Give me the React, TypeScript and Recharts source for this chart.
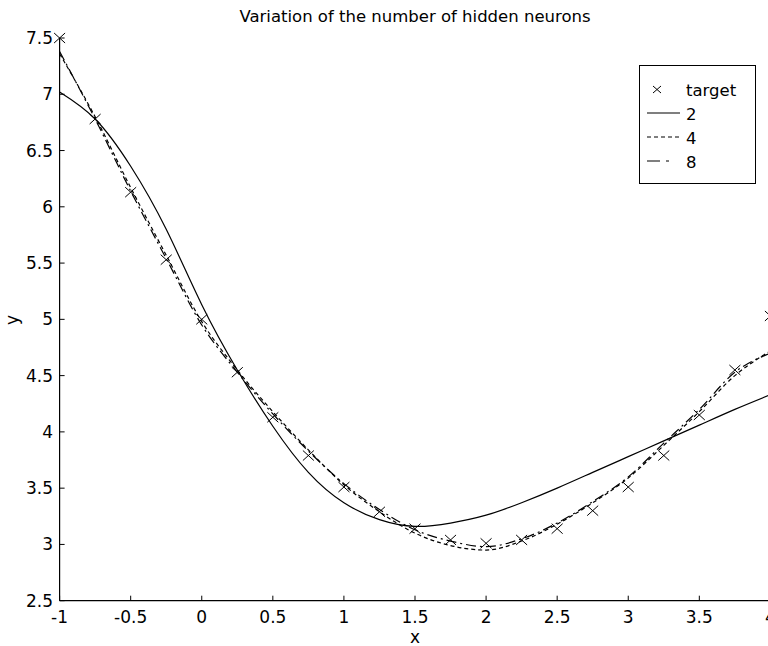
import { ComposedChart, Line, Scatter, XAxis, YAxis } from 'recharts';

const xValues = [-1, -0.75, -0.5, -0.25, 0, 0.25, 0.5, 0.75, 1, 1.25, 1.5, 1.75, 2, 2.25, 2.5, 2.75, 3, 3.25, 3.5, 3.75, 4];
const targetValues = [7.5, 6.78, 6.13, 5.53, 5.0, 4.53, 4.13, 3.79, 3.51, 3.29, 3.14, 3.04, 3.01, 3.04, 3.14, 3.3, 3.51, 3.79, 4.15, 4.55, 5.03];
const hidden2 = [7.02, 6.78, 6.36, 5.8, 5.13, 4.55, 4.05, 3.64, 3.37, 3.22, 3.16, 3.19, 3.26, 3.37, 3.5, 3.64, 3.78, 3.92, 4.06, 4.2, 4.33];
const hidden4 = [7.36, 6.8, 6.17, 5.57, 4.98, 4.55, 4.18, 3.84, 3.53, 3.29, 3.1, 2.99, 2.95, 3.03, 3.18, 3.37, 3.59, 3.88, 4.18, 4.5, 4.72];
const hidden8 = [7.38, 6.78, 6.14, 5.54, 4.95, 4.53, 4.16, 3.83, 3.54, 3.31, 3.13, 3.03, 2.98, 3.05, 3.19, 3.38, 3.6, 3.9, 4.2, 4.53, 4.7];

const xTicks = [-1, -0.5, 0, 0.5, 1, 1.5, 2, 2.5, 3, 3.5, 4];
const yTicks = [2.5, 3, 3.5, 4, 4.5, 5, 5.5, 6, 6.5, 7, 7.5];

const toPoints = (ys: number[]) => xValues.map((x, i) => ({ x, y: ys[i] }));
const targetData = toPoints(targetValues);
const data2 = toPoints(hidden2);
const data4 = toPoints(hidden4);
const data8 = toPoints(hidden8);

const FONT = 'DejaVu Sans';
const DASH4 = '4 3';
const DASH8 = '10 4 2 4';

const LeftTick = ({ x, y, payload }: any) => (
  <g>
    <line x1={x} y1={y} x2={x + 5} y2={y} stroke="#000" strokeWidth={1} />
    <text x={x - 6.5} y={y + 6} textAnchor="end" fontSize={17} fontFamily={FONT} fill="#000">
      {String(payload.value)}
    </text>
  </g>
);

const BottomTick = ({ x, y, payload }: any) => (
  <g>
    <line x1={x} y1={y} x2={x} y2={y - 5} stroke="#000" strokeWidth={1} />
    <text x={x} y={y + 22.5} textAnchor="middle" fontSize={17} fontFamily={FONT} fill="#000">
      {String(payload.value)}
    </text>
  </g>
);

const TopTick = ({ x, y }: any) => <line x1={x} y1={y} x2={x} y2={y + 5} stroke="#000" strokeWidth={1} />;
const RightTick = ({ x, y }: any) => <line x1={x} y1={y} x2={x - 5} y2={y} stroke="#000" strokeWidth={1} />;

const Cross = ({ cx, cy }: any) => (
  <g stroke="#000" strokeWidth={1}>
    <line x1={cx - 5.5} y1={cy - 5} x2={cx + 5.5} y2={cy + 5} />
    <line x1={cx - 5.5} y1={cy + 5} x2={cx + 5.5} y2={cy - 5} />
  </g>
);

// legend box drawn at the same spot as the reference, top right of the plot
const LegendBox = () => (
  <g transform="translate(639 65)">
    <rect x={0.5} y={0.5} width={116} height={118} fill="#fff" stroke="#000" strokeWidth={1} />
    <g fontSize={16.5} fontFamily={FONT} fill="#000">
      <g stroke="#000" strokeWidth={1}>
        <line x1={14} y1={21} x2={22} y2={28} />
        <line x1={14} y1={28} x2={22} y2={21} />
      </g>
      <text x={47} y={31}>target</text>
      <line x1={8} y1={48} x2={41} y2={48} stroke="#000" strokeWidth={1.2} />
      <text x={47} y={55}>2</text>
      <line x1={8} y1={72} x2={41} y2={72} stroke="#000" strokeWidth={1.2} strokeDasharray={DASH4} />
      <text x={47} y={79}>4</text>
      <line x1={8} y1={96} x2={41} y2={96} stroke="#000" strokeWidth={1.2} strokeDasharray="13 6 3 20" />
      <text x={47} y={103}>8</text>
    </g>
  </g>
);

export default function App() {
  return (
    <div style={{ position: 'absolute', left: 0, top: 0, width: 768, height: 646, overflow: 'hidden', background: '#fff' }}>
      <ComposedChart width={780} height={646} margin={{ top: 38, right: 9.6, bottom: 0, left: 0 }}>
        <XAxis
          dataKey="x"
          type="number"
          domain={[-1, 4]}
          ticks={xTicks}
          height={45.3}
          tickSize={0}
          tickMargin={0}
          tickLine={false}
          tick={<BottomTick />}
          axisLine={{ stroke: '#000', strokeWidth: 1.2 }}
          interval={0}
        />
        <XAxis
          xAxisId="top"
          orientation="top"
          dataKey="x"
          type="number"
          domain={[-1, 4]}
          ticks={xTicks}
          height={0}
          tickSize={0}
          tickMargin={0}
          tickLine={false}
          tick={<TopTick />}
          axisLine={{ stroke: '#000', strokeWidth: 1.2 }}
          interval={0}
        />
        <YAxis
          type="number"
          domain={[2.5, 7.5]}
          ticks={yTicks}
          width={59.6}
          tickSize={0}
          tickMargin={0}
          tickLine={false}
          tick={<LeftTick />}
          axisLine={{ stroke: '#000', strokeWidth: 1.2 }}
          interval={0}
        />
        <YAxis
          yAxisId="right"
          orientation="right"
          type="number"
          domain={[2.5, 7.5]}
          ticks={yTicks}
          width={0}
          tickSize={0}
          tickMargin={0}
          tickLine={false}
          tick={<RightTick />}
          axisLine={{ stroke: '#000', strokeWidth: 1.2 }}
          interval={0}
        />
        <Line data={data2} dataKey="y" type="natural" stroke="#000" strokeWidth={1.2} dot={false} isAnimationActive={false} />
        <Line data={data4} dataKey="y" type="monotone" stroke="#000" strokeWidth={1.2} strokeDasharray={DASH4} dot={false} isAnimationActive={false} />
        <Line data={data8} dataKey="y" type="monotone" stroke="#000" strokeWidth={1.2} strokeDasharray={DASH8} dot={false} isAnimationActive={false} />
        <Scatter data={targetData} dataKey="y" shape={<Cross />} isAnimationActive={false} />
      </ComposedChart>
      <svg width={768} height={646} style={{ position: 'absolute', left: 0, top: 0, pointerEvents: 'none' }}>
        <text x={415} y={22} textAnchor="middle" fontSize={16.5} fontFamily={FONT} fill="#000">
          Variation of the number of hidden neurons
        </text>
        <text x={415} y={643} textAnchor="middle" fontSize={17} fontFamily={FONT} fill="#000">
          x
        </text>
        <text x={18} y={320} textAnchor="middle" fontSize={17} fontFamily={FONT} fill="#000" transform="rotate(-90 18 320)">
          y
        </text>
        <LegendBox />
      </svg>
    </div>
  );
}
